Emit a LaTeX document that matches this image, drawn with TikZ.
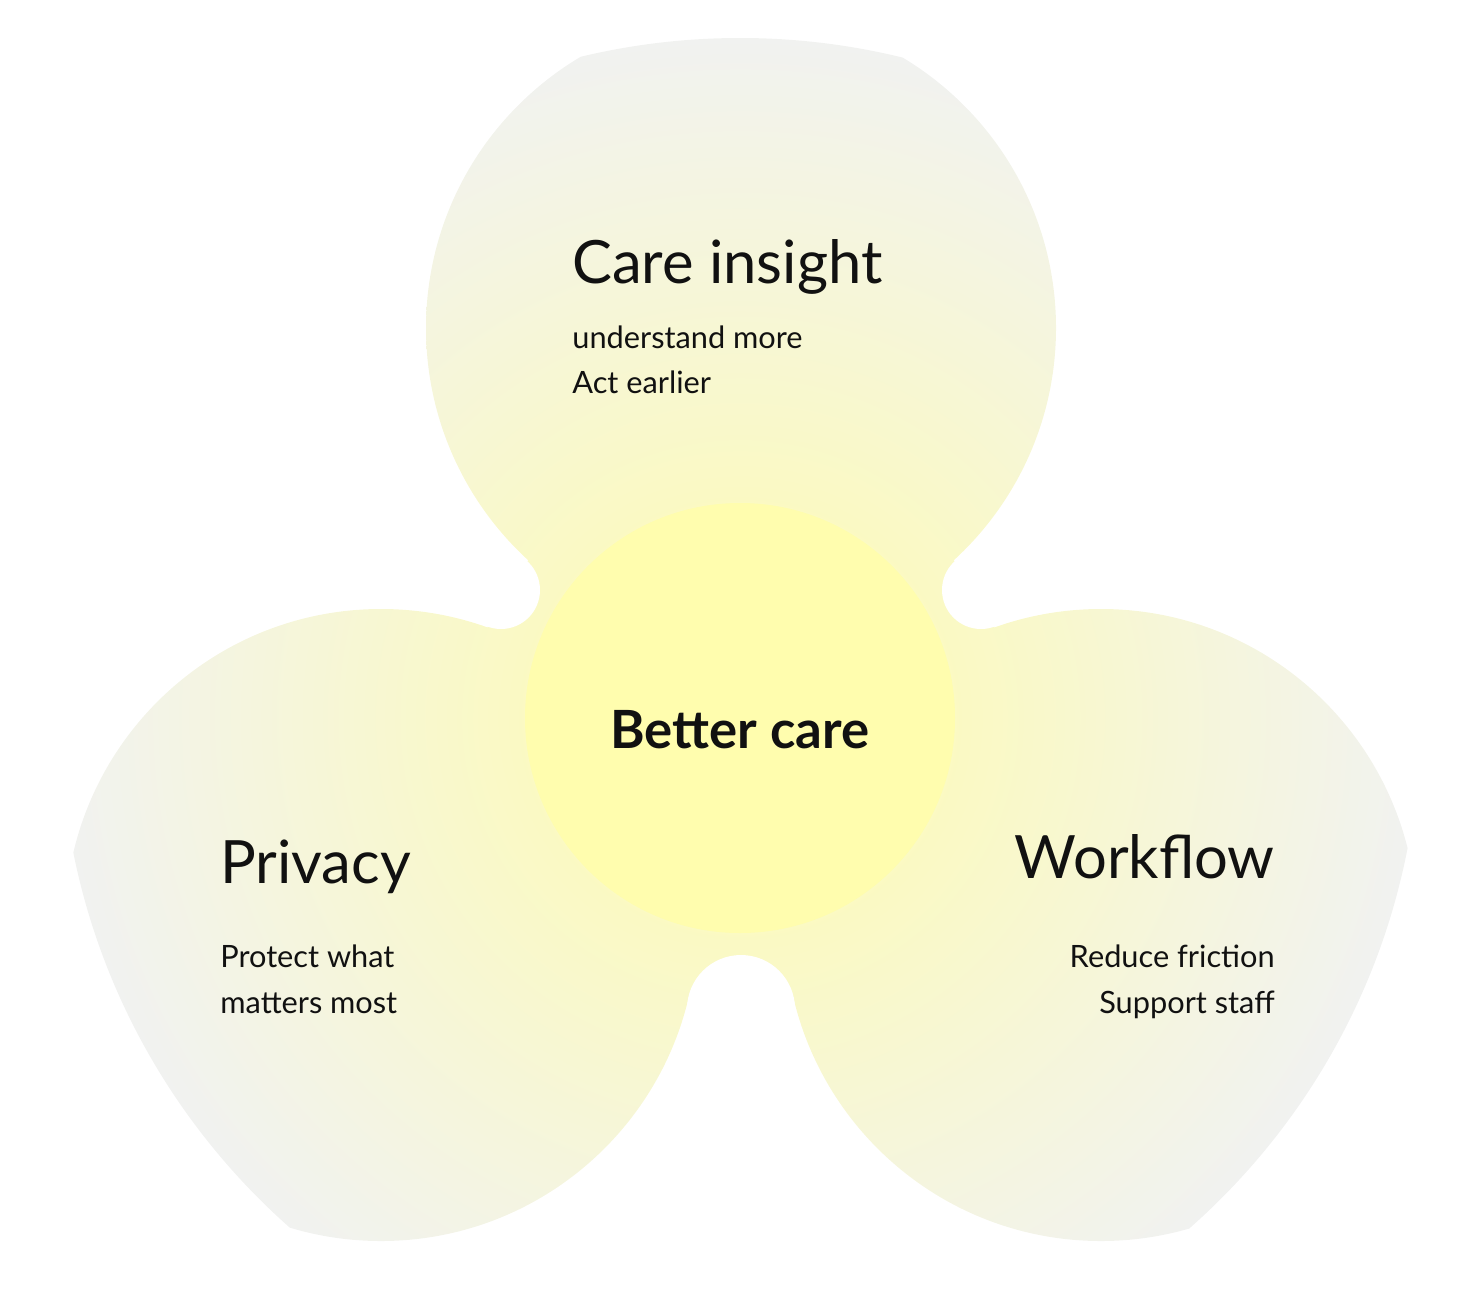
\documentclass[tikz,border=0pt]{standalone}
\usepackage{fontspec}
\setmainfont{Lato}
\usepackage{tikz}
\usetikzlibrary{positioning}
\definecolor{Glow}{HTML}{FFFDAE}
\definecolor{Mist}{HTML}{F1F2F0}
\definecolor{Ink}{HTML}{111111}
\tikzset{
  title/.style={color=Ink, font=\fontsize{34}{36}\selectfont, inner sep=0pt},
  core/.style={color=Ink, font=\fontsize{30}{34}\selectfont\bfseries, inner sep=0pt},
  note/.style={color=Ink, font=\fontsize{17.5}{20}\selectfont, inner sep=0pt},
}
\begin{document}
\begin{tikzpicture}[x=0.02cm, y=-0.02cm]
  \useasboundingbox (0,0) rectangle (1479,1288);

  % Blob: three lobes, joined
  \foreach \part in {
      {(741,328) circle (315)}, {(381,925) circle (316)}, {(1101,925) circle (316)},
      {(741,328) -- (501,590) -- (381,925) -- (741,1009) -- (1101,925) -- (981,590) -- cycle}}{
    \begin{scope}
      \clip \part;
      \shade[inner color=Glow, outer color=Mist] (740,718) circle (680);
    \end{scope}
  }

  % Fillets
  \foreach \c/\r in {(501,590)/39, (981,590)/39, (741,1009)/54}{
    \fill[white] \c circle (\r);
  }

  % Core
  \fill[Glow] (740,718) circle (215);

  % Labels
  \node[core] (better) at (740,730) {Better care};

  \node[title, anchor=base west] (insight) at (572,283) {Care insight};
  \node[note, anchor=base west] (insightA) at (572,348) {understand more};
  \node[note, anchor=base west] (insightB) at (572,393) {Act earlier};

  \node[title, anchor=base west] (privacy) at (220,883) {Privacy};
  \node[note, anchor=base west] (privacyA) at (220,967) {Protect what};
  \node[note, anchor=base west] (privacyB) at (220,1013) {matters most};

  \node[title, anchor=base east] (workflow) at (1275,878) {Workflow};
  \node[note, anchor=base east] (workflowA) at (1275,967) {Reduce friction};
  \node[note, anchor=base east] (workflowB) at (1275,1013) {Support staff};
\end{tikzpicture}
\end{document}
